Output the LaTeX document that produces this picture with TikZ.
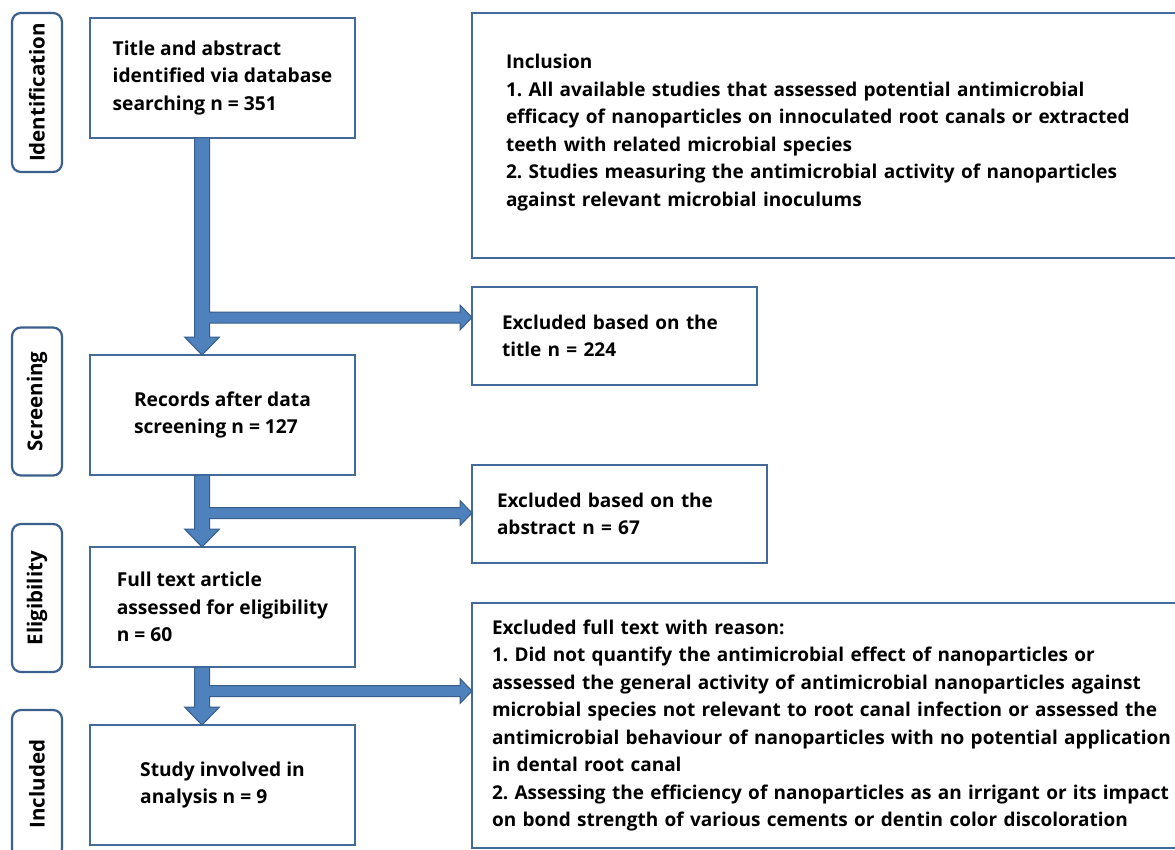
\documentclass[tikz,border=0pt]{standalone}
\usepackage{fontspec}
\setmainfont{Open Sans}
\frenchspacing
\usetikzlibrary{
  positioning,
  calc
}
\definecolor{boxBorder}{RGB}{68, 106, 154}
\definecolor{stageBorder}{RGB}{60, 96, 142}
\definecolor{arrowFill}{RGB}{79, 129, 189}
\definecolor{arrowBorder}{RGB}{56, 93, 138}

% fat flow arrow: down from #1 to #2, with a branch to #3 (#4 = branch height above the tip)
\newcommand{\flowarrow}[4]{
  \path let \p1 = (#1.south west), \p2 = (#2.north west), \p3 = (#3.west) in
    [fill=arrowFill, draw=arrowBorder, line width=1pt, line join=miter]
    (\x1+104.5pt, \y1) -- (\x1+119.5pt, \y1)
    -- (\x1+119.5pt, \y2+#4+5.5pt) -- (\x3-12pt, \y2+#4+5.5pt)
    -- (\x3-12pt, \y2+#4+12.5pt) -- (\x3, \y2+#4)
    -- (\x3-12pt, \y2+#4-12.5pt) -- (\x3-12pt, \y2+#4-5.5pt)
    -- (\x1+119.5pt, \y2+#4-5.5pt) -- (\x1+119.5pt, \y2+18pt)
    -- (\x1+129.5pt, \y2+18pt) -- (\x1+112pt, \y2)
    -- (\x1+94.5pt, \y2+18pt) -- (\x1+104.5pt, \y2+18pt) -- cycle;
}

\begin{document}
\begin{tikzpicture}[
    x=1pt, y=-1pt,
    stage/.style={rectangle, draw=stageBorder, rounded corners=9pt, line width=2.2pt, rotate=90, minimum width=148pt, minimum height=50pt, font=\bfseries\fontsize{20.5}{24}\selectfont},
    mainbox/.style={rectangle, draw=boxBorder, line width=2.4pt, outer sep=0pt, minimum width=265pt, minimum height=120pt, align=left, font=\bfseries\fontsize{19.2}{27.5}\selectfont},
    sidebox/.style={rectangle, draw=boxBorder, line width=2.4pt, outer sep=0pt, anchor=north west, align=left, inner ysep=0pt, font=\bfseries\fontsize{19}{27.5}\selectfont}
]

    \clip (0,0) rectangle (1175,850);
    \fill[white] (0,0) rectangle (1175,850);

    % stages
    \node[stage, minimum width=159pt] (labelI) at (37,92.5) {Identification};
    \node[stage] (labelS) at (37,401.5) {Screening};
    \node[stage] (labelE) at (37,598) {Eligibility};
    \node[stage] (labelInc) at (37,784) {Included};

    % main column
    \node[mainbox, anchor=north west] (identified) at (90,18) {
        Title and abstract \\ identified via database \\ searching n = 351
    };
    \node[mainbox, below=217pt of identified] (screened) {
        Records after data \\ screening n = 127
    };
    \node[mainbox, below=72pt of screened] (eligible) {
        Full text article \\ assessed for eligibility \\ n = 60
    };
    \node[mainbox, below=58pt of eligible] (included) {
        Study involved in \\ analysis n = 9
    };

    % side column
    \node[sidebox, minimum height=245pt, inner xsep=34pt, text width=700pt] (criteria) at (472,13) {
        Inclusion \\
        1. All available studies that assessed potential antimicrobial \\
        efficacy of nanoparticles on innoculated root canals or extracted \\
        teeth with related microbial species \\
        2. Studies measuring the antimicrobial activity of nanoparticles \\
        against relevant microbial inoculums \\[-17pt] ~
    };
    \node[sidebox, minimum height=98pt, inner xsep=30pt, text width=225pt] (exTitle) at (472,287) {
        Excluded based on the \\ title n = 224
    };
    \node[sidebox, minimum height=98pt, inner xsep=25pt, text width=245pt] (exAbstract) at (472,465) {
        Excluded based on the \\ abstract n = 67
    };
    \node[sidebox, minimum height=245pt, inner xsep=20pt, text width=720pt] (exFull) at (472,603) {
        Excluded full text with reason: \\
        1. Did not quantify the antimicrobial effect of nanoparticles or \\
        assessed the general activity of antimicrobial nanoparticles against \\
        microbial species not relevant to root canal infection or assessed the \\
        antimicrobial behaviour of nanoparticles with no potential application \\
        in dental root canal \\
        2. Assessing the efficiency of nanoparticles as an irrigant or its impact \\
        on bond strength of various cements or dentin color discoloration
    };

    % arrows
    \flowarrow{identified}{screened}{exTitle}{37.5pt}
    \flowarrow{screened}{eligible}{exAbstract}{34pt}
    \flowarrow{eligible}{included}{exFull}{34pt}

\end{tikzpicture}
\end{document}
